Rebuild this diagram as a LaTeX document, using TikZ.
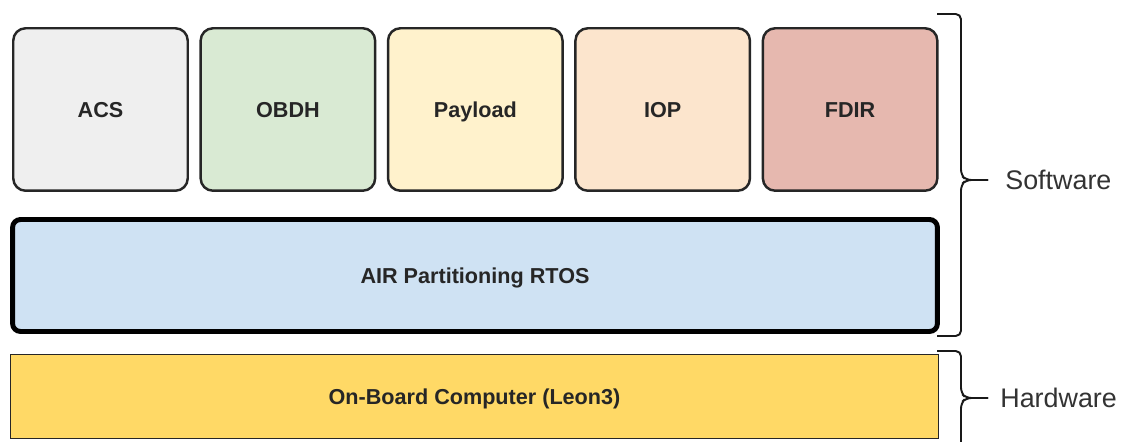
\documentclass[tikz,border=0pt]{standalone}
\usepackage{fontspec}
\setmainfont{Liberation Sans}

\definecolor{acsgray}{HTML}{EFEFEF}
\definecolor{obdhgreen}{HTML}{D9EAD3}
\definecolor{payloadyellow}{HTML}{FFF2CC}
\definecolor{ioporange}{HTML}{FCE5CD}
\definecolor{fdirred}{HTML}{E6B8AF}
\definecolor{rtosblue}{HTML}{CFE2F3}
\definecolor{obcgold}{HTML}{FFD966}

\begin{document}
\begin{tikzpicture}[x=0.02cm,y=0.02cm,
	boxtext/.style={font=\bfseries\fontsize{12.3}{14}\selectfont, text=black!85,
		text height=8.8pt, text depth=0pt, inner sep=0pt},
	appbox/.style={boxtext, draw=black!85, line width=1.4pt, rounded corners=7pt,
		minimum width=3.49cm, minimum height=3.25cm},
	rtosbox/.style={boxtext, draw=black, line width=2.8pt, rounded corners=4.5pt,
		minimum width=18.5cm, minimum height=2.24cm},
	hwbox/.style={boxtext, draw=black!85, line width=0.85pt,
		minimum width=18.56cm, minimum height=1.68cm},
	layerbrace/.style={draw=black!90, line width=1.1pt, rounded corners=3pt},
	layerlabel/.style={anchor=west, inner sep=0pt, text=black!80,
		font=\fontsize{15.3}{18}\selectfont}]
		\useasboundingbox (0,0) rectangle (1124,442);
		
		% applications
		\foreach \name/\lbl/\col [count=\i from 0] in {acs/ACS/acsgray, obdh/OBDH/obdhgreen,
			payload/Payload/payloadyellow, iop/IOP/ioporange, fdir/FDIR/fdirred}{
			\node[appbox, fill=\col] (\name) at (100.5+187.4*\i, 332.5) {\lbl};
		}
		
		% partitioning kernel and hardware
		\node[rtosbox, fill=rtosblue] (rtos) at (475, 166.5) {AIR Partitioning RTOS};
		\node[hwbox, fill=obcgold] (obc) at (474.5, 45.5) {On-Board Computer (Leon3)};
		
		% braces
		\coordinate (swtop) at (937, 428);
		\coordinate (swbot) at (937, 106);
		\coordinate (swtip) at (988, 262);
		\coordinate (hwtop) at (937, 91);
		\coordinate (hwbot) at (937, -12);
		\coordinate (hwtip) at (988, 44);
		\draw[layerbrace] (swtop) -- (961,428) -- (961,267) -- (966,262) -- (swtip);
		\draw[layerbrace] (swtip) -- (966,262) -- (961,257) -- (961,106) -- (swbot);
		\draw[layerbrace] (hwtop) -- (961,91) -- (961,49) -- (966,44) -- (hwtip);
		\draw[layerbrace] (hwtip) -- (966,44) -- (961,39) -- (961,-12) -- (hwbot);
		\node[layerlabel] (software) at (1005, 262) {Software};
		\node[layerlabel] (hardware) at (1000, 44) {Hardware};
	\end{tikzpicture}
\end{document}
